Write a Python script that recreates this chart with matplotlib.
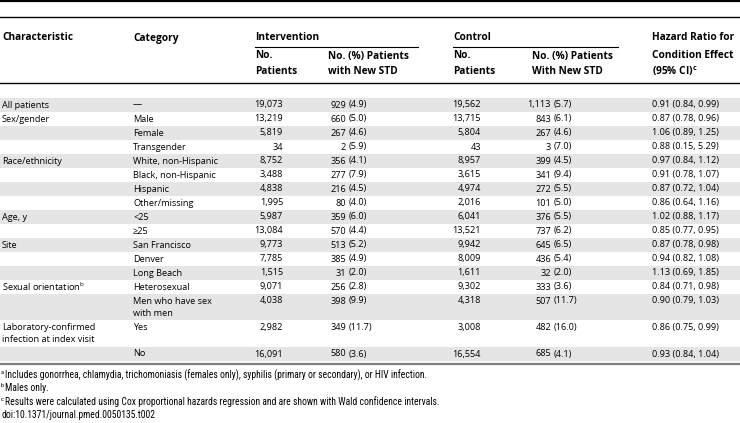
import matplotlib.pyplot as plt
from matplotlib import font_manager

plt.rcParams['font.family'] = ['Open Sans', 'DejaVu Sans']

characteristics = ['All patients', 'Sex/gender', '', '', 'Race/ethnicity', '', '', '',
                   'Age, y', '', 'Site', '', '', r'Sexual orientation$^\mathregular{b}$', '',
                   'Laboratory-confirmed\ninfection at index visit', '']
categories = ['\u2014', 'Male', 'Female', 'Transgender', 'White, non-Hispanic',
              'Black, non-Hispanic', 'Hispanic', 'Other/missing', '<25', '\u226525',
              'San Francisco', 'Denver', 'Long Beach', 'Heterosexual',
              'Men who have sex\nwith men', 'Yes', 'No']
int_n = ['19,073', '13,219', '5,819', '34', '8,752', '3,488', '4,838', '1,995',
         '5,987', '13,084', '9,773', '7,785', '1,515', '9,071', '4,038', '2,982', '16,091']
int_std = ['929', '660', '267', '2', '356', '277', '216', '80', '359', '570',
           '513', '385', '31', '256', '398', '349', '580']
int_pct = ['(4.9)', '(5.0)', '(4.6)', '(5.9)', '(4.1)', '(7.9)', '(4.5)', '(4.0)',
           '(6.0)', '(4.4)', '(5.2)', '(4.9)', '(2.0)', '(2.8)', '(9.9)', '(11.7)', '(3.6)']
ctl_n = ['19,562', '13,715', '5,804', '43', '8,957', '3,615', '4,974', '2,016',
         '6,041', '13,521', '9,942', '8,009', '1,611', '9,302', '4,318', '3,008', '16,554']
ctl_std = ['1,113', '843', '267', '3', '399', '341', '272', '101', '376', '737',
           '645', '436', '32', '333', '507', '482', '685']
ctl_pct = ['(5.7)', '(6.1)', '(4.6)', '(7.0)', '(4.5)', '(9.4)', '(5.5)', '(5.0)',
           '(5.5)', '(6.2)', '(6.5)', '(5.4)', '(2.0)', '(3.6)', '(11.7)', '(16.0)', '(4.1)']
hazard = ['0.91 (0.84, 0.99)', '0.87 (0.78, 0.96)', '1.06 (0.89, 1.25)', '0.88 (0.15, 5.29)',
          '0.97 (0.84, 1.12)', '0.91 (0.78, 1.07)', '0.87 (0.72, 1.04)', '0.86 (0.64, 1.16)',
          '1.02 (0.88, 1.17)', '0.85 (0.77, 0.95)', '0.87 (0.78, 0.98)', '0.94 (0.82, 1.08)',
          '1.13 (0.69, 1.85)', '0.84 (0.71, 0.98)', '0.90 (0.79, 1.03)', '0.86 (0.75, 0.99)',
          '0.93 (0.84, 1.04)']
foot_marks = ['a', 'b', 'c', '']
footnotes = ['Includes gonorrhea, chlamydia, trichomoniasis (females only), '
             'syphilis (primary or secondary), or HIV infection.',
             'Males only.',
             'Results were calculated using Cox proportional hazards regression '
             'and are shown with Wald confidence intervals.',
             'doi:10.1371/journal.pmed.0050135.t002']

fig = plt.figure(figsize=(7.4, 4.23), dpi=100)
ax = fig.add_axes([0, 0, 1, 1])
ax.set_xlim(0, 740)
ax.set_ylim(423, 0)
ax.axis('off')

fs = 6.6
hfs = 7.3
pitch = 14.0
inner = 12.5
grey = '#e5e5e5'

# rules
ax.axhline(1, color='black', lw=1.6)
ax.axhline(17, color='black', lw=1.0)
ax.axhline(83, color='black', lw=1.0)
ax.plot([255, 418], [47, 47], color='black', lw=0.8)
ax.plot([453, 618], [47, 47], color='black', lw=0.8)

# header
hdr = dict(fontsize=hfs, fontweight='bold', va='center', ha='left')
ax.text(2, 38, 'Characteristic', **hdr)
ax.text(133, 38, 'Category', **hdr)
ax.text(255, 38, 'Intervention', **hdr)
ax.text(453, 38, 'Control', **hdr)
ax.text(255, 56, 'No.', **hdr)
ax.text(255, 71, 'Patients', **hdr)
ax.text(328, 56, 'No. (%) Patients', **hdr)
ax.text(328, 71, 'with New STD', **hdr)
ax.text(453, 56, 'No.', **hdr)
ax.text(453, 71, 'Patients', **hdr)
ax.text(532, 56, 'No. (%) Patients', **hdr)
ax.text(532, 71, 'With New STD', **hdr)
ax.text(652, 38, 'Hazard Ratio for', **hdr)
ax.text(652, 56, 'Condition Effect', **hdr)
ax.text(652, 71, r'(95% CI)$^\mathregular{c}$', **hdr)

# body
y = 98
body = dict(fontsize=fs, va='center')
for i in range(len(categories)):
    char_lines = characteristics[i].split('\n')
    cat_lines = categories[i].split('\n')
    nlines = max(len(char_lines), len(cat_lines))
    h = pitch + inner * (nlines - 1)
    if i % 2 == 0:
        ax.axhspan(y, y + h, color=grey, lw=0, zorder=0)
    yc = y + pitch / 2
    for k, s in enumerate(char_lines):
        ax.text(2, yc + k * inner, s, ha='left', **body)
    for k, s in enumerate(cat_lines):
        ax.text(133, yc + k * inner, s, ha='left', **body)
    ax.text(283, yc, int_n[i], ha='right', **body)
    ax.text(346, yc, int_std[i], ha='right', **body)
    ax.text(349, yc, int_pct[i], ha='left', **body)
    ax.text(481, yc, ctl_n[i], ha='right', **body)
    ax.text(551, yc, ctl_std[i], ha='right', **body)
    ax.text(554, yc, ctl_pct[i], ha='left', **body)
    ax.text(652, yc, hazard[i], ha='left', **body)
    y += h

ax.axhline(y + 3, color='#808080', lw=1.6)

# footnotes: narrow font if one is installed
names = {f.name for f in font_manager.fontManager.ttflist}
foot_font = dict(family=['Open Sans', 'DejaVu Sans'])
for cand in ['Liberation Sans Narrow', 'Roboto Condensed', 'Open Sans Condensed']:
    if cand in names:
        foot_font = dict(family=[cand, 'DejaVu Sans'])
        break
else:
    for f in font_manager.fontManager.ttflist:
        if f.name == 'DejaVu Sans' and f.stretch == 'condensed':
            foot_font = dict(family=['DejaVu Sans'], fontstretch='condensed')
            break

renderer = fig.canvas.get_renderer()
probe = ax.text(2, 0, footnotes[0], fontsize=6.0, **foot_font)
w = probe.get_window_extent(renderer).width
probe.remove()
ffs = min(6.0 * 590 / w, 6.9)

fy = y + 14
for mark, note in zip(foot_marks, footnotes):
    x0 = 2
    if mark:
        ax.text(1, fy - 2.5, mark, fontsize=ffs * 0.65, va='center', ha='left', **foot_font)
        x0 = 5
    ax.text(x0, fy, note, fontsize=ffs, va='center', ha='left', **foot_font)
    fy += 13.4

fig.savefig('out.png', dpi=100)
